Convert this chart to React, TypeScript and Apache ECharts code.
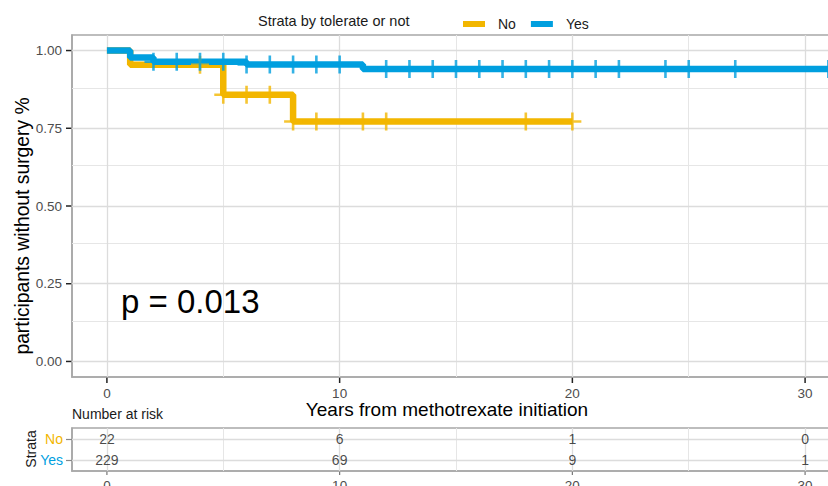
import React, { useEffect, useRef } from 'react';
import * as echarts from 'echarts';

// ---------- data ----------
const strataNames = ['No', 'Yes'];
const stepTimesNo = [0, 1, 5, 8, 20];
const stepSurvNo = [1.0, 0.954, 0.858, 0.772, 0.772];
const stepTimesYes = [0, 1, 2, 6, 11, 31];
const stepSurvYes = [1.0, 0.978, 0.964, 0.955, 0.941, 0.941];
const censorTimesNo = [4, 5, 6, 7, 8, 9, 11, 12, 18, 20];
const censorTimesYes = [2, 3, 4, 5, 6, 7, 8, 9, 10, 12, 13, 14, 15, 16, 17, 18, 19, 20, 21, 22, 24, 25, 27, 31];
const riskTimes = [0, 10, 20, 30];
const riskNo = [22, 6, 1, 0];
const riskYes = [229, 69, 9, 1];
const xTickValues = [0, 10, 20, 30];
const xMinorValues = [5, 15, 25];
const yTickValues = [0, 0.25, 0.5, 0.75, 1];
const yMinorValues = [0.125, 0.375, 0.625, 0.875];
const pValueText = 'p = 0.013';

// ---------- style ----------
const ORANGE = '#F2B600';
const BLUE = '#009FDF';
const FONT = '"Liberation Sans", Arial, sans-serif';
const BORDER = '#a8a8a8';
const TICK = '#222222';
const LABEL = '#4d4d4d';
const MAJOR = { color: '#dcdcdc', width: 1.3, type: 'solid' };
const MINOR = { color: '#e6e6e6', width: 1, type: 'solid' };
const PLUS = 'path://M7.7,0H10.3V7.7H18V10.3H10.3V18H7.7V10.3H0V7.7H7.7Z';
const X_MIN = -1.5;
const X_MAX = 31.5;
const Y_MIN = -0.05;
const Y_MAX = 1.05;

function levelAt(times: number[], surv: number[], t: number) {
  let v = surv[0];
  for (let i = 0; i < times.length; i++) if (times[i] <= t) v = surv[i];
  return v;
}

export default function App() {
  const ref = useRef<HTMLDivElement>(null);
  useEffect(() => {
    document.body.style.margin = '0';
    const chart = echarts.init(ref.current!, null, { renderer: 'svg' });

    const stepData = (times: number[], surv: number[]) => times.map((t, i) => [t, surv[i]]);
    const censorData = (ct: number[], times: number[], surv: number[]) => ct.map((t) => [t, levelAt(times, surv, t)]);

    const xAxisBase = (gi: number, margin: number) => ({
      type: 'value', gridIndex: gi, min: X_MIN, max: X_MAX,
      axisLine: { show: true, onZero: false, lineStyle: { color: BORDER, width: 1.6 } },
      axisTick: { show: false },
      axisLabel: { customValues: xTickValues, margin, fontSize: 13.5, color: LABEL, fontFamily: FONT },
      splitLine: { show: false },
    });

    const gridBase = { left: 72, right: -12, show: true, borderColor: BORDER, borderWidth: 1.6, backgroundColor: 'transparent', containLabel: false, outerBoundsMode: 'none' };

    const option: any = {
      animation: false,
      backgroundColor: '#ffffff',
      textStyle: { fontFamily: FONT },
      grid: [
        { ...gridBase, top: 35, height: 342 },
        { ...gridBase, top: 428, height: 43 },
      ],
      xAxis: [xAxisBase(0, 9), xAxisBase(1, 7)],
      yAxis: [
        {
          type: 'value', gridIndex: 0, min: Y_MIN, max: Y_MAX,
          axisLine: { show: true, onZero: false, lineStyle: { color: BORDER, width: 1.6 } },
          axisTick: { show: false },
          axisLabel: { customValues: yTickValues, margin: 10, fontSize: 13.5, color: LABEL, fontFamily: FONT, formatter: (v: number) => v.toFixed(2) },
          splitLine: { show: false },
        },
        {
          type: 'category', gridIndex: 1, data: ['Yes', 'No'],
          axisLine: { show: true, onZero: false, lineStyle: { color: BORDER, width: 1.6 } },
          axisTick: { show: true, alignWithLabel: true, interval: 0, length: 6, lineStyle: { color: '#888', width: 1.2 } },
          axisLabel: { interval: 0, margin: 9, fontSize: 14, fontFamily: FONT, color: (v: string) => (v === 'No' ? ORANGE : BLUE) },
          splitLine: { show: false },
        },
      ],
      legend: {
        left: 463, top: 17, padding: 0, itemWidth: 22, itemHeight: 6, itemGap: 15, icon: 'rect',
        data: strataNames,
        textStyle: { fontSize: 14, color: '#1a1a1a', fontFamily: FONT, padding: [0, 0, 0, 8] },
      },
      series: [
        {
          name: 'grid-main', type: 'scatter', xAxisIndex: 0, yAxisIndex: 0, data: [], silent: true,
          markLine: {
            z: 1, silent: true, symbol: ['none', 'none'], label: { show: false }, animation: false,
            data: [
              ...xMinorValues.map((v) => ({ xAxis: v, lineStyle: MINOR })),
              ...yMinorValues.map((v) => ({ yAxis: v, lineStyle: MINOR })),
              ...xTickValues.map((v) => ({ xAxis: v, lineStyle: MAJOR })),
              ...yTickValues.map((v) => ({ yAxis: v, lineStyle: MAJOR })),
            ],
          },
        },
        {
          name: 'grid-risk', type: 'scatter', xAxisIndex: 1, yAxisIndex: 1, data: [], silent: true,
          markLine: {
            z: 1, silent: true, symbol: ['none', 'none'], label: { show: false }, animation: false,
            data: [
              ...xMinorValues.map((v) => ({ xAxis: v, lineStyle: MINOR })),
              ...xTickValues.map((v) => ({ xAxis: v, lineStyle: MAJOR })),
              ...strataNames.map((s) => ({ yAxis: s, lineStyle: MAJOR })),
            ],
          },
        },
        {
          name: 'No', type: 'line', step: 'end', xAxisIndex: 0, yAxisIndex: 0,
          data: stepData(stepTimesNo, stepSurvNo), symbol: 'none', z: 2,
          lineStyle: { color: ORANGE, width: 6.5 }, itemStyle: { color: ORANGE },
        },
        {
          name: 'Yes', type: 'line', step: 'end', xAxisIndex: 0, yAxisIndex: 0,
          data: stepData(stepTimesYes, stepSurvYes), symbol: 'none', z: 2,
          lineStyle: { color: BLUE, width: 6.5 }, itemStyle: { color: BLUE },
        },
        {
          name: 'No censored', type: 'scatter', xAxisIndex: 0, yAxisIndex: 0, z: 3,
          data: censorData(censorTimesNo, stepTimesNo, stepSurvNo),
          symbol: PLUS, symbolSize: [18, 18], itemStyle: { color: ORANGE }, silent: true,
        },
        {
          name: 'Yes censored', type: 'scatter', xAxisIndex: 0, yAxisIndex: 0, z: 3,
          data: censorData(censorTimesYes, stepTimesYes, stepSurvYes),
          symbol: PLUS, symbolSize: [18, 18], itemStyle: { color: BLUE }, silent: true,
        },
        {
          name: 'y-ticks', type: 'custom', xAxisIndex: 0, yAxisIndex: 0, z: 10, silent: true, clip: false,
          data: yTickValues.map((v) => [X_MIN, v]),
          renderItem: (params: any, api: any) => {
            const p = api.coord([api.value(0), api.value(1)]);
            return { type: 'line', shape: { x1: p[0] - 6, y1: p[1], x2: p[0] - 0.8, y2: p[1] }, style: { stroke: TICK, lineWidth: 1.5 } };
          },
        },
        {
          name: 'x-ticks', type: 'custom', xAxisIndex: 0, yAxisIndex: 0, z: 10, silent: true, clip: false,
          data: xTickValues.map((v) => [v, Y_MIN]),
          renderItem: (params: any, api: any) => {
            const p = api.coord([api.value(0), api.value(1)]);
            return { type: 'line', shape: { x1: p[0], y1: p[1] + 0.8, x2: p[0], y2: p[1] + 6 }, style: { stroke: TICK, lineWidth: 1.5 } };
          },
        },
        {
          name: 'risk-x-ticks', type: 'custom', xAxisIndex: 1, yAxisIndex: 1, z: 10, silent: true, clip: false,
          data: xTickValues.map((v) => [v, 0]),
          renderItem: (params: any, api: any) => {
            const p = api.coord([api.value(0), 0]);
            const bottom = params.coordSys.y + params.coordSys.height;
            return { type: 'line', shape: { x1: p[0], y1: bottom + 0.8, x2: p[0], y2: bottom + 4 }, style: { stroke: '#777', lineWidth: 1.2 } };
          },
        },
        {
          name: 'risk', type: 'scatter', xAxisIndex: 1, yAxisIndex: 1, z: 3, silent: true,
          data: [
            ...riskTimes.map((t, i) => [t, 'No', riskNo[i]]),
            ...riskTimes.map((t, i) => [t, 'Yes', riskYes[i]]),
          ],
          symbolSize: 1, itemStyle: { color: 'transparent' },
          label: {
            show: true, position: 'inside', fontSize: 14, color: '#1a1a1a', fontFamily: FONT,
            formatter: (p: any) => String(p.value[2]),
          },
        },
      ],
      graphic: [
        { type: 'text', x: 258, y: 21, style: { text: 'Strata by tolerate or not', fontSize: 14.5, fontFamily: FONT, fill: '#1a1a1a', align: 'left', verticalAlign: 'middle' } },
        { type: 'text', x: 22, y: 226, rotation: Math.PI / 2, style: { text: 'participants without surgery %', fontSize: 19.3, fontFamily: FONT, fill: '#000', align: 'center', verticalAlign: 'middle' } },
        { type: 'text', x: 447, y: 409, style: { text: 'Years from methotrexate initiation', fontSize: 19, fontFamily: FONT, fill: '#000', align: 'center', verticalAlign: 'middle' } },
        { type: 'text', x: 121, y: 301, style: { text: pValueText, fontSize: 33, fontFamily: FONT, fill: '#000', align: 'left', verticalAlign: 'middle' } },
        { type: 'text', x: 72, y: 414, style: { text: 'Number at risk', fontSize: 14, fontFamily: FONT, fill: '#1a1a1a', align: 'left', verticalAlign: 'middle' } },
        { type: 'text', x: 31, y: 449, rotation: Math.PI / 2, style: { text: 'Strata', fontSize: 14, fontFamily: FONT, fill: '#1a1a1a', align: 'center', verticalAlign: 'middle' } },
      ],
    };
    chart.setOption(option);
    return () => chart.dispose();
  }, []);
  return <div ref={ref} style={{ position: 'fixed', left: 0, top: 0, width: 828, height: 486 }} />;
}
